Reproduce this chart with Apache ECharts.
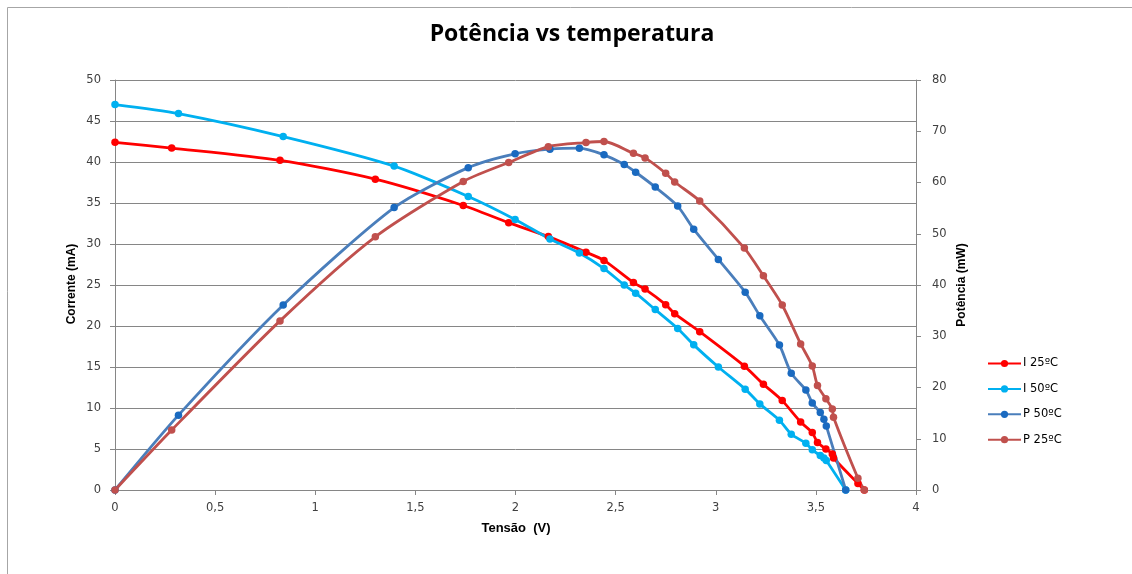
<!DOCTYPE html>
<html>
<head>
<meta charset="utf-8">
<script src="https://cdn.jsdelivr.net/npm/echarts@6/dist/echarts.min.js"></script>
<style>html,body{margin:0;padding:0;background:#fff}#c{width:1132px;height:574px}</style>
</head>
<body>
<div id="c"></div>
<script>
// Tensão (V) for the 25ºC measurements
const v25 = [0, 0.283, 0.824, 1.30, 1.739, 1.966, 2.164, 2.352, 2.442, 2.589, 2.647, 2.75, 2.795, 2.92, 3.143, 3.238, 3.332, 3.424, 3.482, 3.508, 3.55, 3.582, 3.588, 3.71, 3.742];
const i25 = [42.4, 41.7, 40.2, 37.9, 34.7, 32.6, 30.9, 29.0, 28.0, 25.3, 24.5, 22.6, 21.5, 19.3, 15.1, 12.9, 10.9, 8.3, 7.0, 5.8, 5.0, 4.4, 3.9, 0.8, 0];
const p25 = [0, 11.7, 33.0, 49.4, 60.2, 63.9, 67.0, 67.8, 68.0, 65.7, 64.8, 61.8, 60.1, 56.4, 47.2, 41.8, 36.1, 28.5, 24.2, 20.4, 17.8, 15.8, 14.2, 2.3, 0];
// Tensão (V) for the 50ºC measurements
const v50 = [0, 0.317, 0.840, 1.394, 1.764, 1.998, 2.172, 2.319, 2.442, 2.543, 2.6, 2.698, 2.81, 2.89, 3.013, 3.147, 3.22, 3.318, 3.377, 3.45, 3.482, 3.522, 3.54, 3.552, 3.649];
const i50 = [47.0, 45.9, 43.1, 39.5, 35.8, 33.0, 30.6, 28.9, 27.0, 25.0, 24.0, 22.0, 19.7, 17.7, 15.0, 12.3, 10.5, 8.5, 6.8, 5.7, 4.9, 4.2, 3.9, 3.6, 0];
const p50 = [0, 14.6, 36.1, 55.1, 62.9, 65.6, 66.5, 66.7, 65.4, 63.5, 62.0, 59.1, 55.4, 50.9, 45.0, 38.6, 34.0, 28.3, 22.8, 19.5, 17.0, 15.1, 13.8, 12.5, 0];

const seriesNames = ['I 25ºC', 'I 50ºC', 'P 50ºC', 'P 25ºC'];
const titleText = 'Potência vs temperatura';
const xName = 'Tensão  (V)';
const yLeftName = 'Corrente (mA)';
const yRightName = 'Potência (mW)';

const pair = (xs, ys) => xs.map((x, k) => [x, ys[k]]);

const axisGrey = '#868686';
const labelColor = '#404040';
const font = 'DejaVu Sans';

function mk(name, data, yIdx, lineColor, dotColor) {
  return {
    name, type: 'line', yAxisIndex: yIdx, data,
    smooth: 0.25, symbol: 'circle', symbolSize: 7.5,
    lineStyle: { color: lineColor, width: 2.8 },
    itemStyle: { color: dotColor },
    emphasis: { disabled: true },
    z: 3
  };
}

const chart = echarts.init(document.getElementById('c'), null, { renderer: 'canvas' });
chart.setOption({
  animation: false,
  backgroundColor: '#fff',
  grid: { left: 115, right: 216, top: 80, bottom: 84, containLabel: false },
  graphic: [
    { type: 'rect', shape: { x: 7.5, y: 7.5, width: 1140, height: 600 }, style: { fill: 'none', stroke: '#a6a6a6', lineWidth: 1 }, silent: true, z: -10 },
    { type: 'text', x: 572, y: 34, style: { text: titleText, font: 'bold 23px "Open Sans"', fill: '#000', textAlign: 'center', textVerticalAlign: 'middle' } },
    { type: 'text', x: 516, y: 528, style: { text: xName, font: 'bold 13px "Liberation Sans"', fill: '#000', textAlign: 'center', textVerticalAlign: 'middle' } },
    { type: 'text', x: 72, y: 284, rotation: Math.PI / 2, style: { text: yLeftName, font: 'bold 12px "Liberation Sans"', fill: '#000', textAlign: 'center', textVerticalAlign: 'middle' } },
    { type: 'text', x: 962, y: 285, rotation: Math.PI / 2, style: { text: yRightName, font: 'bold 12px "Liberation Sans"', fill: '#000', textAlign: 'center', textVerticalAlign: 'middle' } }
  ],
  legend: {
    orient: 'vertical', left: 987, top: 357.5, padding: 0,
    itemWidth: 33, itemHeight: 9, itemGap: 13.4,
    data: seriesNames,
    textStyle: { fontFamily: font, fontSize: 11.5, color: '#000', padding: [0, 0, 0, -3] }
  },
  xAxis: {
    type: 'value', min: 0, max: 4, interval: 0.5,
    axisLine: { show: true, lineStyle: { color: axisGrey, width: 1 } },
    axisTick: { show: true, length: 5, lineStyle: { color: axisGrey } },
    splitLine: { show: false },
    axisLabel: { fontFamily: font, fontSize: 11.5, color: labelColor, margin: 12,
      formatter: v => String(v).replace('.', ',') }
  },
  yAxis: [
    {
      type: 'value', min: 0, max: 50, interval: 5, position: 'left',
      axisLine: { show: true, lineStyle: { color: axisGrey, width: 1 } },
      axisTick: { show: true, length: 5, lineStyle: { color: axisGrey } },
      splitLine: { show: true, lineStyle: { color: axisGrey, width: 1 } },
      axisLabel: { fontFamily: font, fontSize: 11.5, color: labelColor, margin: 14 }
    },
    {
      type: 'value', min: 0, max: 80, interval: 10, position: 'right',
      axisLine: { show: true, lineStyle: { color: axisGrey, width: 1 } },
      axisTick: { show: true, length: 5, lineStyle: { color: axisGrey } },
      splitLine: { show: false },
      axisLabel: { fontFamily: font, fontSize: 11.5, color: labelColor, margin: 16 }
    }
  ],
  series: [
    mk(seriesNames[0], pair(v25, i25), 0, '#ff0000', '#ff0000'),
    mk(seriesNames[1], pair(v50, i50), 0, '#00b0f0', '#00b0f0'),
    mk(seriesNames[2], pair(v50, p50), 1, '#4a7ebb', '#1a6ac0'),
    mk(seriesNames[3], pair(v25, p25), 1, '#c0504d', '#c0504d')
  ]
});
</script>
</body>
</html>
